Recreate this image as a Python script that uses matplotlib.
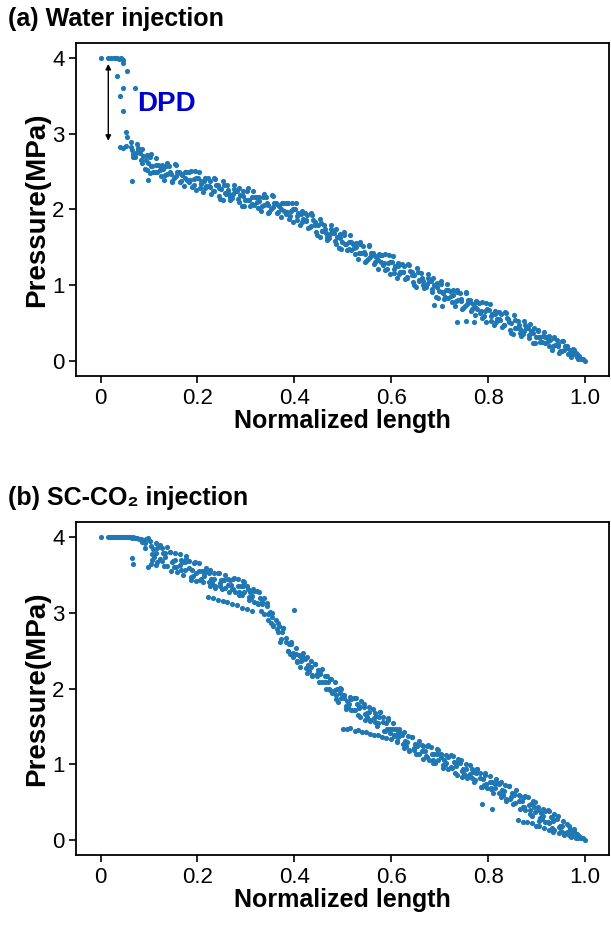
import matplotlib
matplotlib.use("Agg")
import matplotlib.pyplot as plt
import numpy as np

plt.rcParams['font.family'] = ['Liberation Sans', 'DejaVu Sans']

# (a) water injection: (normalized length, pressure MPa)
water_pts = [
    (0.0, 4.0), (0.016, 4.0), (0.022, 4.0), (0.027, 4.0), (0.031, 4.0), (0.035, 4.0),
    (0.039, 3.99), (0.043, 4.0), (0.047, 3.98), (0.046, 3.94), (0.033, 3.77), (0.054, 3.83),
    (0.047, 3.6), (0.071, 3.6), (0.04, 3.5), (0.046, 3.3), (0.053, 3.02), (0.055, 2.96),
    (0.04, 2.83), (0.047, 2.81), (0.052, 2.84),
    (0.062, 2.89), (0.065, 2.78), (0.068, 2.69), (0.072, 2.69), (0.075, 2.87), (0.078, 2.78),
    (0.082, 2.75), (0.085, 2.61), (0.088, 2.70), (0.092, 2.53), (0.095, 2.72), (0.098, 2.61),
    (0.102, 2.69), (0.105, 2.58), (0.108, 2.49), (0.112, 2.50), (0.115, 2.68), (0.118, 2.59),
    (0.122, 2.58), (0.125, 2.44), (0.128, 2.53), (0.132, 2.39), (0.135, 2.58), (0.138, 2.47),
    (0.142, 2.58), (0.145, 2.47), (0.148, 2.38), (0.152, 2.41), (0.155, 2.59), (0.158, 2.50),
    (0.162, 2.50), (0.165, 2.36), (0.168, 2.45), (0.172, 2.31), (0.175, 2.50), (0.178, 2.39),
    (0.182, 2.50), (0.185, 2.39), (0.188, 2.30), (0.192, 2.33), (0.195, 2.51), (0.198, 2.42),
    (0.202, 2.42), (0.205, 2.28), (0.208, 2.37), (0.212, 2.23), (0.215, 2.42), (0.218, 2.31),
    (0.222, 2.41), (0.225, 2.30), (0.228, 2.21), (0.232, 2.24), (0.235, 2.42), (0.238, 2.33),
    (0.242, 2.32), (0.245, 2.18), (0.248, 2.27), (0.252, 2.13), (0.255, 2.32), (0.258, 2.21),
    (0.262, 2.32), (0.265, 2.21), (0.268, 2.12), (0.272, 2.15), (0.275, 2.33), (0.278, 2.24),
    (0.282, 2.24), (0.285, 2.10), (0.288, 2.19), (0.292, 2.05), (0.295, 2.24), (0.298, 2.13),
    (0.302, 2.24), (0.305, 2.13), (0.308, 2.04), (0.312, 2.07), (0.315, 2.25), (0.318, 2.16),
    (0.322, 2.16), (0.325, 2.02), (0.328, 2.11), (0.332, 1.98), (0.335, 2.17), (0.338, 2.06),
    (0.342, 2.17), (0.345, 2.06), (0.348, 1.97), (0.352, 2.00), (0.355, 2.18), (0.358, 2.09),
    (0.362, 2.09), (0.365, 1.95), (0.368, 2.04), (0.372, 1.90), (0.375, 2.09), (0.378, 1.98),
    (0.382, 2.08), (0.385, 1.97), (0.388, 1.88), (0.392, 1.91), (0.395, 2.09), (0.398, 2.00),
    (0.402, 2.00), (0.405, 1.86), (0.408, 1.95), (0.412, 1.79), (0.415, 1.98), (0.418, 1.87),
    (0.422, 1.96), (0.425, 1.85), (0.428, 1.76), (0.432, 1.77), (0.435, 1.95), (0.438, 1.86),
    (0.442, 1.84), (0.445, 1.70), (0.448, 1.79), (0.452, 1.63), (0.455, 1.82), (0.458, 1.71),
    (0.462, 1.80), (0.465, 1.69), (0.468, 1.60), (0.472, 1.62), (0.475, 1.80), (0.478, 1.71),
    (0.482, 1.69), (0.485, 1.55), (0.488, 1.64), (0.492, 1.49), (0.495, 1.68), (0.498, 1.57),
    (0.502, 1.66), (0.505, 1.55), (0.508, 1.46), (0.512, 1.48), (0.515, 1.66), (0.518, 1.57),
    (0.522, 1.55), (0.525, 1.41), (0.528, 1.50), (0.532, 1.35), (0.535, 1.54), (0.538, 1.43),
    (0.542, 1.52), (0.545, 1.41), (0.548, 1.32), (0.552, 1.34), (0.555, 1.52), (0.558, 1.43),
    (0.562, 1.42), (0.565, 1.28), (0.568, 1.37), (0.572, 1.22), (0.575, 1.41), (0.578, 1.30),
    (0.582, 1.40), (0.585, 1.29), (0.588, 1.20), (0.592, 1.22), (0.595, 1.40), (0.598, 1.31),
    (0.602, 1.30), (0.605, 1.16), (0.608, 1.25), (0.612, 1.10), (0.615, 1.29), (0.618, 1.18),
    (0.622, 1.28), (0.625, 1.17), (0.628, 1.08), (0.632, 1.10), (0.635, 1.28), (0.638, 1.19),
    (0.642, 1.18), (0.645, 1.04), (0.648, 1.13), (0.652, 0.98), (0.655, 1.17), (0.658, 1.06),
    (0.662, 1.16), (0.665, 1.05), (0.668, 0.96), (0.672, 0.97), (0.675, 1.15), (0.678, 1.06),
    (0.682, 1.05), (0.685, 0.91), (0.688, 1.00), (0.692, 0.84), (0.695, 1.03), (0.698, 0.92),
    (0.702, 1.02), (0.705, 0.91), (0.708, 0.82), (0.712, 0.84), (0.715, 1.02), (0.718, 0.93),
    (0.722, 0.92), (0.725, 0.78), (0.728, 0.87), (0.732, 0.72), (0.735, 0.91), (0.738, 0.80),
    (0.742, 0.90), (0.745, 0.79), (0.748, 0.70), (0.752, 0.72), (0.755, 0.90), (0.758, 0.81),
    (0.762, 0.80), (0.765, 0.66), (0.768, 0.75), (0.772, 0.60), (0.775, 0.79), (0.778, 0.68),
    (0.782, 0.77), (0.785, 0.66), (0.788, 0.57), (0.792, 0.59), (0.795, 0.77), (0.798, 0.68),
    (0.802, 0.67), (0.805, 0.53), (0.808, 0.62), (0.812, 0.47), (0.815, 0.66), (0.818, 0.55),
    (0.822, 0.65), (0.825, 0.54), (0.828, 0.45), (0.832, 0.47), (0.835, 0.65), (0.838, 0.56),
    (0.842, 0.55), (0.845, 0.41), (0.848, 0.50), (0.852, 0.35), (0.855, 0.54), (0.858, 0.43),
    (0.862, 0.53), (0.865, 0.42), (0.868, 0.33), (0.872, 0.35), (0.875, 0.53), (0.878, 0.44),
    (0.882, 0.44), (0.885, 0.30), (0.888, 0.39), (0.892, 0.24), (0.895, 0.43), (0.898, 0.32),
    (0.902, 0.40), (0.905, 0.31), (0.908, 0.25), (0.912, 0.25), (0.915, 0.38), (0.918, 0.32),
    (0.922, 0.31), (0.925, 0.20), (0.928, 0.27), (0.932, 0.15), (0.935, 0.30), (0.938, 0.21),
    (0.942, 0.28), (0.945, 0.19), (0.948, 0.13), (0.952, 0.13), (0.955, 0.26), (0.958, 0.20),
    (0.962, 0.19), (0.965, 0.09), (0.968, 0.15), (0.972, 0.05), (0.975, 0.16), (0.978, 0.09),
    (0.981, 0.10), (0.984, 0.05), (0.987, 0.07), (0.99, 0.04), (1.0, 0.0),
    (0.064, 2.37), (0.099, 2.39), (0.102, 2.48), (0.688, 0.74), (0.705, 0.73),
    (0.735, 0.51), (0.755, 0.53), (0.77, 0.51),
    # second pass through the band
    (0.0635, 2.83), (0.0665, 2.73), (0.0735, 2.74), (0.0765, 2.81), (0.0835, 2.65), (0.0865, 2.80),
    (0.0935, 2.66), (0.0965, 2.52), (0.1035, 2.73), (0.1065, 2.57), (0.1135, 2.59), (0.1165, 2.49),
    (0.1235, 2.52), (0.1265, 2.59), (0.1335, 2.46), (0.1365, 2.61), (0.1435, 2.50), (0.1465, 2.36),
    (0.1535, 2.60), (0.1565, 2.44), (0.1635, 2.48), (0.1665, 2.38), (0.1735, 2.42), (0.1765, 2.49),
    (0.1835, 2.36), (0.1865, 2.51), (0.1935, 2.40), (0.1965, 2.26), (0.2035, 2.50), (0.2065, 2.34),
    (0.2135, 2.38), (0.2165, 2.28), (0.2235, 2.31), (0.2265, 2.38), (0.2335, 2.25), (0.2365, 2.40),
    (0.2435, 2.28), (0.2465, 2.14), (0.2535, 2.38), (0.2565, 2.22), (0.2635, 2.26), (0.2665, 2.16),
    (0.2735, 2.20), (0.2765, 2.27), (0.2835, 2.14), (0.2865, 2.29), (0.2935, 2.18), (0.2965, 2.04),
    (0.3035, 2.28), (0.3065, 2.12), (0.3135, 2.16), (0.3165, 2.06), (0.3235, 2.10), (0.3265, 2.17),
    (0.3335, 2.05), (0.3365, 2.20), (0.3435, 2.09), (0.3465, 1.95), (0.3535, 2.19), (0.3565, 2.03),
    (0.3635, 2.07), (0.3665, 1.97), (0.3735, 2.01), (0.3765, 2.08), (0.3835, 1.94), (0.3865, 2.09),
    (0.3935, 1.98), (0.3965, 1.84), (0.4035, 2.08), (0.4065, 1.92), (0.4135, 1.94), (0.4165, 1.84),
    (0.4235, 1.86), (0.4265, 1.93), (0.4335, 1.78), (0.4365, 1.93), (0.4435, 1.80), (0.4465, 1.66),
    (0.4535, 1.88), (0.4565, 1.72), (0.4635, 1.74), (0.4665, 1.64), (0.4735, 1.67), (0.4765, 1.74),
    (0.4835, 1.59), (0.4865, 1.74), (0.4935, 1.62), (0.4965, 1.48), (0.5035, 1.70), (0.5065, 1.54),
    (0.5135, 1.57), (0.5165, 1.47), (0.5235, 1.49), (0.5265, 1.56), (0.5335, 1.42), (0.5365, 1.57),
    (0.5435, 1.44), (0.5465, 1.30), (0.5535, 1.53), (0.5565, 1.37), (0.5635, 1.40), (0.5665, 1.30),
    (0.5735, 1.33), (0.5765, 1.40), (0.5835, 1.26), (0.5865, 1.41), (0.5935, 1.29), (0.5965, 1.15),
    (0.6035, 1.38), (0.6065, 1.22), (0.6135, 1.25), (0.6165, 1.15), (0.6235, 1.18), (0.6265, 1.25),
    (0.6335, 1.11), (0.6365, 1.26), (0.6435, 1.14), (0.6465, 1.00), (0.6535, 1.23), (0.6565, 1.07),
    (0.6635, 1.10), (0.6665, 1.00), (0.6735, 1.02), (0.6765, 1.09), (0.6835, 0.95), (0.6865, 1.10),
    (0.6935, 0.97), (0.6965, 0.83), (0.7035, 1.06), (0.7065, 0.90), (0.7135, 0.93), (0.7165, 0.83),
    (0.7235, 0.86), (0.7265, 0.93), (0.7335, 0.79), (0.7365, 0.94), (0.7435, 0.82), (0.7465, 0.68),
    (0.7535, 0.91), (0.7565, 0.75), (0.7635, 0.78), (0.7665, 0.68), (0.7735, 0.71), (0.7765, 0.78),
    (0.7835, 0.63), (0.7865, 0.78), (0.7935, 0.66), (0.7965, 0.52), (0.8035, 0.75), (0.8065, 0.59),
    (0.8135, 0.62), (0.8165, 0.52), (0.8235, 0.55), (0.8265, 0.62), (0.8335, 0.48), (0.8365, 0.63),
    (0.8435, 0.51), (0.8465, 0.37), (0.8535, 0.60), (0.8565, 0.44), (0.8635, 0.47), (0.8665, 0.37),
    (0.8735, 0.40), (0.8765, 0.47), (0.8835, 0.34), (0.8865, 0.49), (0.8935, 0.37), (0.8965, 0.23),
    (0.9035, 0.41), (0.9065, 0.31), (0.9135, 0.33), (0.9165, 0.23), (0.9235, 0.26), (0.9265, 0.33),
    (0.9335, 0.19), (0.9365, 0.32), (0.9435, 0.22), (0.9465, 0.11), (0.9535, 0.26), (0.9565, 0.15),
    (0.9635, 0.17), (0.9665, 0.09), (0.9735, 0.10), (0.9765, 0.15), (0.9835, 0.09), (0.9865, 0.03),
    (0.992, 0.03), (0.995, 0.02),
]

# (b) SC-CO2 injection
co2_pts = [
    (0.0, 4.0), (0.016, 4.0), (0.020, 4.0), (0.024, 4.0), (0.028, 4.0), (0.032, 4.0),
    (0.036, 4.0), (0.040, 4.0), (0.044, 4.0), (0.048, 4.0), (0.052, 3.995), (0.056, 4.0),
    (0.060, 3.995), (0.064, 3.99), (0.068, 3.995), (0.072, 3.99), (0.076, 3.985), (0.080, 3.98),
    (0.084, 3.975), (0.088, 3.96), (0.086, 3.94), (0.092, 3.92),
    (0.091, 3.85), (0.094, 3.97), (0.097, 3.99),
    (0.103, 3.95), (0.106, 3.70), (0.109, 3.84), (0.111, 3.74), (0.114, 3.92), (0.117, 3.67),
    (0.123, 3.90), (0.126, 3.68), (0.129, 3.79), (0.131, 3.62), (0.134, 3.79), (0.137, 3.87),
    (0.143, 3.80), (0.146, 3.55), (0.149, 3.69), (0.151, 3.61), (0.154, 3.79), (0.157, 3.54),
    (0.163, 3.78), (0.166, 3.56), (0.169, 3.67), (0.171, 3.50), (0.174, 3.67), (0.177, 3.75),
    (0.183, 3.68), (0.186, 3.43), (0.189, 3.57), (0.191, 3.49), (0.194, 3.67), (0.197, 3.42),
    (0.203, 3.66), (0.206, 3.44), (0.209, 3.55), (0.211, 3.41), (0.214, 3.53), (0.217, 3.59),
    (0.223, 3.53), (0.226, 3.35), (0.229, 3.45), (0.231, 3.40), (0.234, 3.53), (0.237, 3.35),
    (0.243, 3.53), (0.246, 3.36), (0.249, 3.44), (0.251, 3.32), (0.254, 3.44), (0.257, 3.50),
    (0.263, 3.45), (0.266, 3.27), (0.269, 3.37), (0.271, 3.32), (0.274, 3.45), (0.277, 3.27),
    (0.283, 3.45), (0.286, 3.28), (0.289, 3.36), (0.291, 3.23), (0.294, 3.35), (0.297, 3.41),
    (0.303, 3.35), (0.306, 3.17), (0.309, 3.27), (0.311, 3.19), (0.314, 3.32), (0.317, 3.14),
    (0.323, 3.29), (0.326, 3.12), (0.329, 3.20), (0.331, 3.02), (0.334, 3.14), (0.337, 3.20),
    (0.343, 3.09), (0.346, 2.91), (0.349, 3.01), (0.351, 2.87), (0.354, 3.00), (0.357, 2.82),
    (0.363, 2.91), (0.366, 2.74), (0.369, 2.82), (0.371, 2.62), (0.374, 2.74), (0.377, 2.80),
    (0.383, 2.67), (0.386, 2.49), (0.389, 2.59), (0.391, 2.46), (0.394, 2.59), (0.397, 2.41),
    (0.403, 2.53), (0.406, 2.36), (0.409, 2.44), (0.411, 2.29), (0.414, 2.41), (0.417, 2.47),
    (0.423, 2.39), (0.426, 2.21), (0.429, 2.31), (0.431, 2.23), (0.434, 2.36), (0.437, 2.18),
    (0.443, 2.33), (0.446, 2.16), (0.449, 2.24), (0.451, 2.08), (0.454, 2.20), (0.457, 2.26),
    (0.463, 2.17), (0.466, 1.99), (0.469, 2.09), (0.471, 1.99), (0.474, 2.12), (0.477, 1.94),
    (0.483, 2.08), (0.486, 1.91), (0.489, 1.99), (0.491, 1.82), (0.494, 1.94), (0.497, 2.00),
    (0.503, 1.91), (0.506, 1.73), (0.509, 1.83), (0.511, 1.76), (0.514, 1.89), (0.517, 1.71),
    (0.523, 1.88), (0.526, 1.71), (0.529, 1.79), (0.531, 1.65), (0.534, 1.77), (0.537, 1.83),
    (0.543, 1.76), (0.546, 1.58), (0.549, 1.68), (0.551, 1.62), (0.554, 1.75), (0.557, 1.57),
    (0.563, 1.73), (0.566, 1.56), (0.569, 1.64), (0.571, 1.51), (0.574, 1.63), (0.577, 1.69),
    (0.583, 1.62), (0.586, 1.44), (0.589, 1.54), (0.591, 1.46), (0.594, 1.59), (0.597, 1.41),
    (0.603, 1.55), (0.606, 1.38), (0.609, 1.46), (0.611, 1.29), (0.614, 1.41), (0.617, 1.47),
    (0.623, 1.39), (0.626, 1.21), (0.629, 1.31), (0.631, 1.24), (0.634, 1.37), (0.637, 1.19),
    (0.643, 1.36), (0.646, 1.19), (0.649, 1.27), (0.651, 1.13), (0.654, 1.25), (0.657, 1.31),
    (0.663, 1.25), (0.666, 1.07), (0.669, 1.17), (0.671, 1.11), (0.674, 1.24), (0.677, 1.06),
    (0.683, 1.23), (0.686, 1.06), (0.689, 1.14), (0.691, 1.01), (0.694, 1.13), (0.697, 1.19),
    (0.703, 1.13), (0.706, 0.95), (0.709, 1.05), (0.711, 0.99), (0.714, 1.12), (0.717, 0.94),
    (0.723, 1.12), (0.726, 0.95), (0.729, 1.03), (0.731, 0.89), (0.734, 1.01), (0.737, 1.07),
    (0.743, 1.01), (0.746, 0.83), (0.749, 0.93), (0.751, 0.87), (0.754, 1.00), (0.757, 0.82),
    (0.763, 0.99), (0.766, 0.82), (0.769, 0.90), (0.771, 0.76), (0.774, 0.88), (0.777, 0.94),
    (0.783, 0.88), (0.786, 0.70), (0.789, 0.80), (0.791, 0.73), (0.794, 0.86), (0.797, 0.68),
    (0.803, 0.85), (0.806, 0.68), (0.809, 0.76), (0.811, 0.62), (0.814, 0.74), (0.817, 0.80),
    (0.823, 0.74), (0.826, 0.56), (0.829, 0.66), (0.831, 0.59), (0.834, 0.72), (0.837, 0.54),
    (0.843, 0.71), (0.846, 0.54), (0.849, 0.62), (0.851, 0.48), (0.854, 0.60), (0.857, 0.66),
    (0.863, 0.59), (0.866, 0.41), (0.869, 0.51), (0.871, 0.44), (0.874, 0.57), (0.877, 0.39),
    (0.883, 0.56), (0.886, 0.39), (0.889, 0.47), (0.891, 0.32), (0.894, 0.44), (0.897, 0.50),
    (0.903, 0.43), (0.906, 0.25), (0.909, 0.35), (0.911, 0.28), (0.914, 0.41), (0.917, 0.23),
    (0.923, 0.39), (0.926, 0.22), (0.929, 0.30), (0.931, 0.16), (0.934, 0.28), (0.937, 0.34),
    (0.943, 0.27), (0.946, 0.09), (0.949, 0.19), (0.951, 0.12), (0.954, 0.25), (0.957, 0.07),
    (0.963, 0.21), (0.966, 0.06), (0.969, 0.14), (0.971, 0.04), (0.974, 0.11), (0.977, 0.15),
    (0.981, 0.03), (0.984, 0.08), (0.987, 0.05), (1.0, 0.0),
    # second pass through the band
    (0.1035, 3.88), (0.1065, 3.78), (0.1135, 3.79), (0.1165, 3.86), (0.1235, 3.71), (0.1265, 3.86),
    (0.1335, 3.74), (0.1365, 3.62), (0.1435, 3.81), (0.1465, 3.67), (0.1535, 3.70), (0.1565, 3.60),
    (0.1635, 3.63), (0.1665, 3.70), (0.1735, 3.56), (0.1765, 3.71), (0.1835, 3.59), (0.1865, 3.47),
    (0.1935, 3.66), (0.1965, 3.52), (0.2035, 3.55), (0.2065, 3.45), (0.2135, 3.48), (0.2165, 3.55),
    (0.2235, 3.41), (0.2265, 3.56), (0.2335, 3.45), (0.2365, 3.33), (0.2435, 3.53), (0.2465, 3.39),
    (0.2535, 3.43), (0.2565, 3.33), (0.2635, 3.37), (0.2665, 3.44), (0.2735, 3.31), (0.2765, 3.46),
    (0.2835, 3.35), (0.2865, 3.23), (0.2935, 3.42), (0.2965, 3.28), (0.3035, 3.31), (0.3065, 3.21),
    (0.3135, 3.22), (0.3165, 3.29), (0.3235, 3.13), (0.3265, 3.28), (0.3335, 3.11), (0.3365, 2.99),
    (0.3435, 3.13), (0.3465, 2.99), (0.3535, 2.94), (0.3565, 2.84), (0.3635, 2.79), (0.3665, 2.86),
    (0.3735, 2.65), (0.3765, 2.80), (0.3835, 2.61), (0.3865, 2.49), (0.3935, 2.61), (0.3965, 2.47),
    (0.4035, 2.45), (0.4065, 2.35), (0.4135, 2.36), (0.4165, 2.43), (0.4235, 2.27), (0.4265, 2.42),
    (0.4335, 2.28), (0.4365, 2.16), (0.4435, 2.33), (0.4465, 2.19), (0.4535, 2.19), (0.4565, 2.09),
    (0.4635, 2.09), (0.4665, 2.16), (0.4735, 1.98), (0.4765, 2.13), (0.4835, 1.98), (0.4865, 1.86),
    (0.4935, 2.01), (0.4965, 1.87), (0.5035, 1.87), (0.5065, 1.77), (0.5135, 1.79), (0.5165, 1.86),
    (0.5235, 1.72), (0.5265, 1.87), (0.5335, 1.74), (0.5365, 1.62), (0.5435, 1.80), (0.5465, 1.66),
    (0.5535, 1.69), (0.5565, 1.59), (0.5635, 1.61), (0.5665, 1.68), (0.5735, 1.54), (0.5765, 1.69),
    (0.5835, 1.56), (0.5865, 1.44), (0.5935, 1.61), (0.5965, 1.47), (0.6035, 1.47), (0.6065, 1.37),
    (0.6135, 1.36), (0.6165, 1.43), (0.6235, 1.27), (0.6265, 1.42), (0.6335, 1.29), (0.6365, 1.17),
    (0.6435, 1.36), (0.6465, 1.22), (0.6535, 1.24), (0.6565, 1.14), (0.6635, 1.17), (0.6665, 1.24),
    (0.6735, 1.10), (0.6765, 1.25), (0.6835, 1.13), (0.6865, 1.01), (0.6935, 1.20), (0.6965, 1.06),
    (0.7035, 1.09), (0.7065, 0.99), (0.7135, 1.02), (0.7165, 1.09), (0.7235, 0.96), (0.7265, 1.11),
    (0.7335, 0.98), (0.7365, 0.86), (0.7435, 1.05), (0.7465, 0.91), (0.7535, 0.94), (0.7565, 0.84),
    (0.7635, 0.87), (0.7665, 0.94), (0.7735, 0.79), (0.7765, 0.94), (0.7835, 0.82), (0.7865, 0.70),
    (0.7935, 0.88), (0.7965, 0.74), (0.8035, 0.77), (0.8065, 0.67), (0.8135, 0.69), (0.8165, 0.76),
    (0.8235, 0.62), (0.8265, 0.77), (0.8335, 0.64), (0.8365, 0.52), (0.8435, 0.71), (0.8465, 0.57),
    (0.8535, 0.59), (0.8565, 0.49), (0.8635, 0.51), (0.8665, 0.58), (0.8735, 0.43), (0.8765, 0.58),
    (0.8835, 0.46), (0.8865, 0.34), (0.8935, 0.51), (0.8965, 0.37), (0.9035, 0.39), (0.9065, 0.29),
    (0.9135, 0.31), (0.9165, 0.38), (0.9235, 0.23), (0.9265, 0.38), (0.9335, 0.25), (0.9365, 0.13),
    (0.9435, 0.31), (0.9465, 0.17), (0.9535, 0.19), (0.9565, 0.09), (0.9635, 0.11), (0.9665, 0.18),
    (0.9735, 0.06), (0.9765, 0.12), (0.9835, 0.07), (0.9865, 0.02), (0.992, 0.02), (0.995, 0.03),
    # lower branches / stray points
    (0.500, 1.47), (0.508, 1.46), (0.515, 1.48), (0.525, 1.44), (0.532, 1.45), (0.540, 1.43),
    (0.548, 1.42), (0.556, 1.40), (0.565, 1.38), (0.572, 1.39), (0.580, 1.36), (0.590, 1.35),
    (0.600, 1.33), (0.612, 1.31),
    (0.862, 0.26), (0.872, 0.24), (0.880, 0.24), (0.890, 0.22), (0.898, 0.19), (0.905, 0.18),
    (0.915, 0.16), (0.925, 0.13), (0.934, 0.11),
    (0.222, 3.21), (0.232, 3.19), (0.242, 3.17), (0.252, 3.15), (0.262, 3.14), (0.272, 3.12),
    (0.282, 3.10), (0.292, 3.07), (0.302, 3.05), (0.312, 3.02),
    (0.064, 3.73), (0.068, 3.64), (0.098, 3.61), (0.105, 3.64), (0.115, 3.63), (0.40, 3.04),
    (0.787, 0.48), (0.808, 0.41),
]

titles = ['(a) Water injection', '(b) SC-CO\u2082 injection']
xticks = [0, 0.2, 0.4, 0.6, 0.8, 1.0]
xticklabels = ['0', '0.2', '0.4', '0.6', '0.8', '1.0']
yticks = [0, 1, 2, 3, 4]

fig = plt.figure(figsize=(6.11, 9.40), dpi=100)
ax_a = fig.add_axes([0.1249, 0.600, 0.8722, 0.3543])
ax_b = fig.add_axes([0.1249, 0.0904, 0.8722, 0.3543])

for ax, pts in [(ax_a, water_pts), (ax_b, co2_pts)]:
    arr = np.array(pts)
    ax.scatter(arr[:, 0], arr[:, 1], s=14, color='#1f77b4', linewidths=0)
    ax.set_xlim(-0.05, 1.05)
    ax.set_ylim(-0.2, 4.2)
    ax.set_xticks(xticks)
    ax.set_xticklabels(xticklabels)
    ax.set_yticks(yticks)
    ax.tick_params(labelsize=16, length=5, width=1.2)
    for sp in ax.spines.values():
        sp.set_linewidth(1.3)
    ax.set_xlabel('Normalized length', fontsize=18, fontweight='bold', labelpad=0)
    ax.set_ylabel('Pressure(MPa)', fontsize=20, fontweight='bold', labelpad=1)

fig.text(0.013, 1 - 19 / 940, titles[0], fontsize=18, fontweight='bold', va='center')
fig.text(0.013, 1 - 498 / 940, titles[1], fontsize=18, fontweight='bold', va='center')

ax_a.annotate('', xy=(0.016, 3.96), xytext=(0.016, 2.87),
              arrowprops=dict(arrowstyle='<|-|>', color='black', lw=1, mutation_scale=8))
ax_a.text(0.075, 3.40, 'DPD', color='#0000CC', fontsize=20, fontweight='bold', va='center')

fig.savefig('out.png', dpi=100)
